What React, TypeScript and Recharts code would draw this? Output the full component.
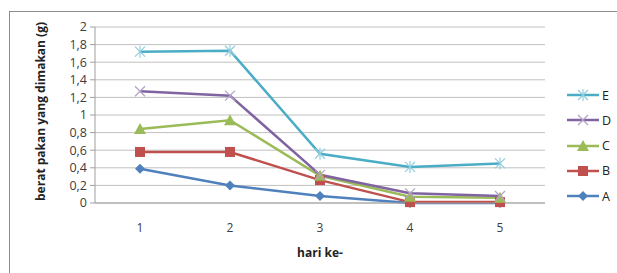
import React from "react";
import { CartesianGrid, Line, LineChart, XAxis, YAxis } from "recharts";

const days = ["1", "2", "3", "4", "5"];
const seriesA = [0.39, 0.2, 0.08, 0.0, 0.0];
const seriesB = [0.58, 0.58, 0.26, 0.01, 0.01];
const seriesC = [0.84, 0.94, 0.31, 0.07, 0.06];
const seriesD = [1.27, 1.22, 0.32, 0.11, 0.08];
const seriesE = [1.72, 1.73, 0.56, 0.41, 0.45];
const yTicks = [0, 0.2, 0.4, 0.6, 0.8, 1, 1.2, 1.4, 1.6, 1.8, 2];

const data = days.map((day, i) => ({
  day,
  A: seriesA[i],
  B: seriesB[i],
  C: seriesC[i],
  D: seriesD[i],
  E: seriesE[i],
}));

const colors: Record<string, string> = {
  A: "#4F81BD",
  B: "#C0504D",
  C: "#9BBB59",
  D: "#8064A2",
  E: "#4BACC6",
};

const font = "'Open Sans', 'DejaVu Sans', sans-serif";

function Marker({ kind, cx, cy }: { kind: string; cx: number; cy: number }) {
  const c = colors[kind];
  if (kind === "A") {
    return <polygon points={`${cx},${cy - 5} ${cx + 5},${cy} ${cx},${cy + 5} ${cx - 5},${cy}`} fill={c} />;
  }
  if (kind === "B") {
    return <rect x={cx - 5} y={cy - 5} width={10} height={10} fill={c} />;
  }
  if (kind === "C") {
    return <polygon points={`${cx},${cy - 6} ${cx + 6},${cy + 5} ${cx - 6},${cy + 5}`} fill={c} />;
  }
  const light = kind === "D" ? "#B3A2C7" : "#93CDDD";
  return (
    <g stroke={light} strokeWidth={1.2}>
      <line x1={cx - 5} y1={cy - 5} x2={cx + 5} y2={cy + 5} />
      <line x1={cx - 5} y1={cy + 5} x2={cx + 5} y2={cy - 5} />
      {kind === "E" && <line x1={cx} y1={cy - 6} x2={cx} y2={cy + 6} />}
    </g>
  );
}

const makeDot = (kind: string) => (props: any) => {
  const { cx, cy, index } = props;
  if (cx == null || cy == null) return <g key={`${kind}-${index}`} />;
  return (
    <g key={`${kind}-${index}`}>
      <Marker kind={kind} cx={cx} cy={cy} />
    </g>
  );
};

const legendOrder = ["E", "D", "C", "B", "A"];

export default function App() {
  return (
    <div style={{ position: "absolute", left: 0, top: 0, width: 617, height: 273, overflow: "hidden", background: "#fff", fontFamily: font }}>
      <div style={{ position: "absolute", left: 9, top: 11, width: 700, height: 300, border: "1px solid #8c8c8c" }} />
      <LineChart width={617} height={273} data={data} margin={{ top: 27, right: 72, bottom: 40, left: 0 }}>
        <CartesianGrid horizontal vertical={false} stroke="#c0c0c0" strokeWidth={1} />
        <XAxis
          dataKey="day"
          height={30}
          padding={{ left: 45, right: 45 }}
          stroke="#a0a0a0"
          tickLine={false}
          tickMargin={14}
          tick={{ fill: "#404040", fontSize: 12, fontFamily: font }}
          label={{ value: "hari ke-", position: "insideBottom", offset: -24, fill: "#222", fontSize: 12, fontWeight: 700, fontFamily: font }}
        />
        <YAxis
          width={95}
          domain={[0, 2]}
          ticks={yTicks}
          interval={0}
          stroke="#a0a0a0"
          tickSize={5}
          tickMargin={3}
          tickFormatter={(v: number) => String(Math.round(v * 10) / 10).replace(".", ",")}
          tick={{ fill: "#404040", fontSize: 12.5, fontFamily: font }}
          label={{ value: "berat pakan yang dimakan (g)", angle: -90, position: "insideLeft", offset: 41, dy: 86, fill: "#222", fontSize: 12, fontWeight: 700, fontFamily: font }}
        />
        {["A", "B", "C", "D", "E"].map((k) => (
          <Line
            key={k}
            type="linear"
            dataKey={k}
            stroke={colors[k]}
            strokeWidth={2.5}
            dot={makeDot(k)}
            activeDot={false}
            isAnimationActive={false}
          />
        ))}
      </LineChart>
      {legendOrder.map((k, i) => (
        <div key={k} style={{ position: "absolute", left: 566, top: 87 + i * 25.3, height: 16, display: "flex", alignItems: "center" }}>
          <svg width={34} height={16}>
            <line x1={1} y1={8} x2={33} y2={8} stroke={colors[k]} strokeWidth={2.5} />
            <Marker kind={k} cx={17} cy={8} />
          </svg>
          <span style={{ fontSize: 12.5, color: "#222", marginLeft: 2 }}>{k}</span>
        </div>
      ))}
    </div>
  );
}
